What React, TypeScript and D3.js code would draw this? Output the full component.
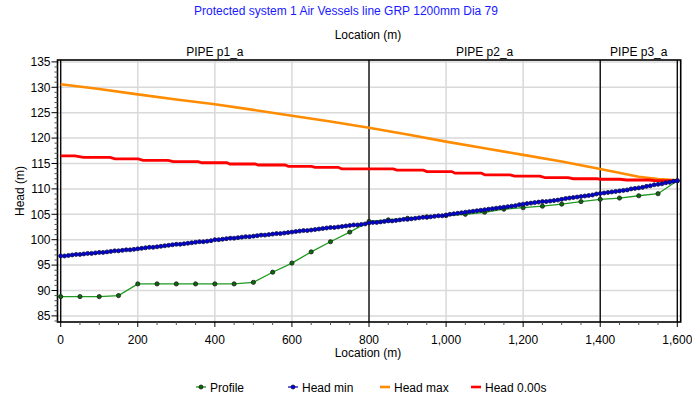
import React from 'react';
import * as d3 from 'd3';

const W = 692;
const H = 400;
const FONT = '"Liberation Sans", Arial, sans-serif';

const chartTitle = 'Protected system 1 Air Vessels line GRP 1200mm Dia 79';
const axisTitleX = 'Location (m)';
const axisTitleY = 'Head (m)';

const xTicks = [0, 200, 400, 600, 800, 1000, 1200, 1400, 1600];
const yTicks = [85, 90, 95, 100, 105, 110, 115, 120, 125, 130, 135];

// Pipe boundaries (m) and the pipe names shown above each span
const pipeBounds = [0, 800, 1400, 1600];
const pipeNames = ['PIPE p1_a', 'PIPE p2_a', 'PIPE p3_a'];

// Pipe profile elevation, one node every 50 m
const profileStep = 50;
const profile = [
  88.8, 88.8, 88.8, 89.0, 91.3, 91.3, 91.3, 91.3, 91.3, 91.3, 91.6, 93.6, 95.4,
  97.6, 99.6, 101.5, 103.6, 103.9, 104.2, 104.5, 104.75, 105.0, 105.4, 106.0,
  106.3, 106.6, 107.0, 107.5, 107.95, 108.2, 108.65, 109.05, 111.6,
];

// Minimum head envelope, one node every 10 m
const headMinStep = 10;
const headMin = [
  96.8, 96.8, 96.9, 97.0, 97.1, 97.1, 97.2, 97.3, 97.3, 97.4, 97.5, 97.5, 97.6,
  97.7, 97.8, 97.8, 97.9, 98.0, 98.0, 98.1, 98.2,
  98.3, 98.4, 98.5, 98.5, 98.6, 98.7, 98.8, 98.9, 99.0, 99.1, 99.1, 99.2, 99.3,
  99.4, 99.5, 99.6, 99.6, 99.7, 99.8, 100.0,
  100.0, 100.1, 100.2, 100.3, 100.3, 100.4, 100.5, 100.6, 100.6, 100.7, 100.8,
  100.9, 100.9, 101.0, 101.1, 101.2, 101.2, 101.3, 101.4, 101.5,
  101.6, 101.7, 101.8, 101.8, 101.9, 102.0, 102.1, 102.2, 102.3, 102.4, 102.4,
  102.5, 102.6, 102.7, 102.8, 102.9, 102.9, 103.0, 103.1, 103.3,
  103.4, 103.4, 103.5, 103.6, 103.7, 103.7, 103.8, 103.9, 104.0, 104.0, 104.1,
  104.2, 104.3, 104.4, 104.4, 104.5, 104.6, 104.7, 104.7, 104.85,
  105.0, 105.1, 105.2, 105.3, 105.4, 105.5, 105.6, 105.7, 105.8, 105.9, 106.0,
  106.1, 106.2, 106.3, 106.4, 106.5, 106.6, 106.7, 106.9, 107.0,
  107.1, 107.2, 107.3, 107.4, 107.5, 107.5, 107.6, 107.7, 107.8, 107.95,
  108.1, 108.2, 108.3, 108.4, 108.5, 108.6, 108.7, 108.8, 109.0, 109.1,
  109.2, 109.3, 109.4, 109.5, 109.6, 109.7, 109.8, 110.0, 110.1, 110.2,
  110.3, 110.5, 110.6, 110.8, 110.9, 111.0, 111.2, 111.3, 111.5, 111.6,
];

// Maximum head envelope
const headMaxLoc = [0, 100, 200, 300, 400, 500, 600, 700, 800, 900, 1000, 1100, 1200, 1300, 1400, 1500, 1550, 1600];
const headMax = [130.6, 129.65, 128.6, 127.6, 126.65, 125.55, 124.4, 123.25, 122.05, 120.7, 119.3, 118.0, 116.7, 115.4, 113.9, 112.4, 111.95, 111.7];

// Head at t = 0.00 s
const headT0Loc = [
  0, 37, 59, 128, 141, 201, 214, 279, 292, 357, 366, 431, 439, 504, 513, 582, 591, 651,
  660, 720, 729, 863, 872, 941, 950, 1015, 1023, 1092, 1101, 1166, 1178, 1244, 1257,
  1317, 1330, 1391, 1399, 1451, 1468, 1528, 1540, 1600,
];
const headT0 = [
  116.5, 116.5, 116.2, 116.2, 115.9, 115.9, 115.6, 115.6, 115.35, 115.35, 115.15, 115.15,
  114.9, 114.9, 114.7, 114.7, 114.45, 114.45, 114.25, 114.25, 113.95, 113.95, 113.7,
  113.7, 113.4, 113.4, 113.1, 113.1, 112.75, 112.75, 112.5, 112.5, 112.2, 112.2, 112.0,
  112.0, 111.9, 111.9, 111.75, 111.75, 111.65, 111.6,
];

const legendItems = ['Profile', 'Head min', 'Head max', 'Head 0.00s'];

const COL = {
  profileLine: '#1f9a1f',
  profileDot: '#0b6b0b',
  minLine: '#1010c0',
  minDot: '#0000e6',
  max: '#ff8c00',
  t0: '#ff0000',
  grid: '#d9d9d9',
};

export default function App() {
  const plot = { left: 57.5, right: 680.7, top: 60, bottom: 322 };

  const x = d3.scaleLinear().domain([-8.3, 1608.8]).range([plot.left, plot.right]);
  const y = d3.scaleLinear().domain([83.8, 135.37]).range([plot.bottom, plot.top]);

  const line = d3
    .line<[number, number]>()
    .x((d) => x(d[0]))
    .y((d) => y(d[1]));

  const profilePts: [number, number][] = profile.map((v, i) => [i * profileStep, v]);
  const minPts: [number, number][] = headMin.map((v, i) => [i * headMinStep, v]);
  const maxPts: [number, number][] = headMax.map((v, i) => [headMaxLoc[i], v]);
  const t0Pts: [number, number][] = headT0.map((v, i) => [headT0Loc[i], v]);

  const xMinor = d3.range(0, 1601, 50).filter((v) => v % 200 !== 0);
  const yMinor = d3.range(84, 136, 1).filter((v) => v % 5 !== 0);
  const fmt = d3.format(',');

  const legendX = [201, 293, 385, 476];

  return (
    <svg
      width={W}
      height={H}
      style={{ position: 'absolute', left: 0, top: 0, background: '#fff' }}
      fontFamily={FONT}
    >
      <rect x={0} y={0} width={W} height={H} fill="#fff" />

      {/* titles */}
      <text x={346} y={15} textAnchor="middle" fontSize={12} fill="#1a1aff">
        {chartTitle}
      </text>
      <text x={368} y={39} textAnchor="middle" fontSize={12} fill="#000">
        {axisTitleX}
      </text>

      {/* grid */}
      {xTicks.map((t) => (
        <line key={'gx' + t} x1={x(t)} x2={x(t)} y1={plot.top} y2={plot.bottom} stroke={COL.grid} strokeWidth={1.5} />
      ))}
      {yTicks.map((t) => (
        <line key={'gy' + t} x1={plot.left} x2={plot.right} y1={y(t)} y2={y(t)} stroke={COL.grid} strokeWidth={1.5} />
      ))}

      {/* pipe boundaries and names */}
      {pipeBounds.map((b) => (
        <line key={'pb' + b} x1={x(b)} x2={x(b)} y1={plot.top} y2={plot.bottom} stroke="#000" strokeWidth={1.3} />
      ))}
      {pipeNames.map((n, i) => (
        <text
          key={n}
          x={(x(pipeBounds[i]) + x(pipeBounds[i + 1])) / 2}
          y={56}
          textAnchor="middle"
          fontSize={12}
          fill="#000"
        >
          {n}
        </text>
      ))}

      {/* series */}
      <path d={line(maxPts) || ''} fill="none" stroke={COL.max} strokeWidth={2.6} />
      <path d={line(t0Pts) || ''} fill="none" stroke={COL.t0} strokeWidth={2.8} />
      <path d={line(profilePts) || ''} fill="none" stroke={COL.profileLine} strokeWidth={1.3} />
      {profilePts.map((p, i) => (
        <circle key={'pp' + i} cx={x(p[0])} cy={y(p[1])} r={2.1} fill={COL.profileDot} stroke="#1a1a1a" strokeWidth={0.8} />
      ))}
      <path d={line(minPts) || ''} fill="none" stroke={COL.minLine} strokeWidth={1.3} />
      {minPts.map((p, i) => (
        <circle key={'mp' + i} cx={x(p[0])} cy={y(p[1])} r={2} fill={COL.minDot} stroke="#101040" strokeWidth={0.8} />
      ))}

      {/* frame */}
      <rect
        x={plot.left}
        y={plot.top}
        width={plot.right - plot.left}
        height={plot.bottom - plot.top}
        fill="none"
        stroke="#000"
        strokeWidth={1.6}
      />

      {/* x axis */}
      {xTicks.map((t) => (
        <g key={'xt' + t}>
          <line x1={x(t)} x2={x(t)} y1={plot.bottom} y2={plot.bottom + 5} stroke="#000" strokeWidth={1} />
          <text x={x(t)} y={344} textAnchor="middle" fontSize={12} fill="#000">
            {fmt(t)}
          </text>
        </g>
      ))}
      {xMinor.map((t) => (
        <line key={'xm' + t} x1={x(t)} x2={x(t)} y1={plot.bottom} y2={plot.bottom + 3} stroke="#555" strokeWidth={1} />
      ))}
      <text x={368} y={357} textAnchor="middle" fontSize={12} fill="#000">
        {axisTitleX}
      </text>

      {/* y axis */}
      {yTicks.map((t) => (
        <g key={'yt' + t}>
          <line x1={plot.left - 6} x2={plot.left} y1={y(t)} y2={y(t)} stroke="#000" strokeWidth={1} />
          <text x={plot.left - 7} y={y(t) + 4.3} textAnchor="end" fontSize={12} fill="#000">
            {t}
          </text>
        </g>
      ))}
      {yMinor.map((t) => (
        <line key={'ym' + t} x1={plot.left - 3} x2={plot.left} y1={y(t)} y2={y(t)} stroke="#555" strokeWidth={1} />
      ))}
      <text
        transform={`translate(24, ${(plot.top + plot.bottom) / 2}) rotate(-90)`}
        textAnchor="middle"
        fontSize={12}
        fill="#000"
      >
        {axisTitleY}
      </text>

      {/* legend */}
      {legendItems.map((name, i) => {
        const cx = legendX[i];
        const cy = 387;
        let mark: React.ReactNode = null;
        if (i === 0) {
          mark = (
            <g>
              <line x1={cx - 5} x2={cx + 5} y1={cy} y2={cy} stroke={COL.profileLine} strokeWidth={1.3} />
              <circle cx={cx} cy={cy} r={2} fill={COL.profileDot} stroke="#1a1a1a" strokeWidth={0.8} />
            </g>
          );
        } else if (i === 1) {
          mark = (
            <g>
              <line x1={cx - 5} x2={cx + 5} y1={cy} y2={cy} stroke={COL.minLine} strokeWidth={1.3} />
              <circle cx={cx} cy={cy} r={2} fill={COL.minDot} stroke="#101040" strokeWidth={0.8} />
            </g>
          );
        } else {
          mark = (
            <line x1={cx - 5} x2={cx + 5} y1={cy} y2={cy} stroke={i === 2 ? COL.max : COL.t0} strokeWidth={2.6} />
          );
        }
        return (
          <g key={name}>
            {mark}
            <text x={cx + 9} y={cy + 4.5} fontSize={12} fill="#000">
              {name}
            </text>
          </g>
        );
      })}
    </svg>
  );
}
